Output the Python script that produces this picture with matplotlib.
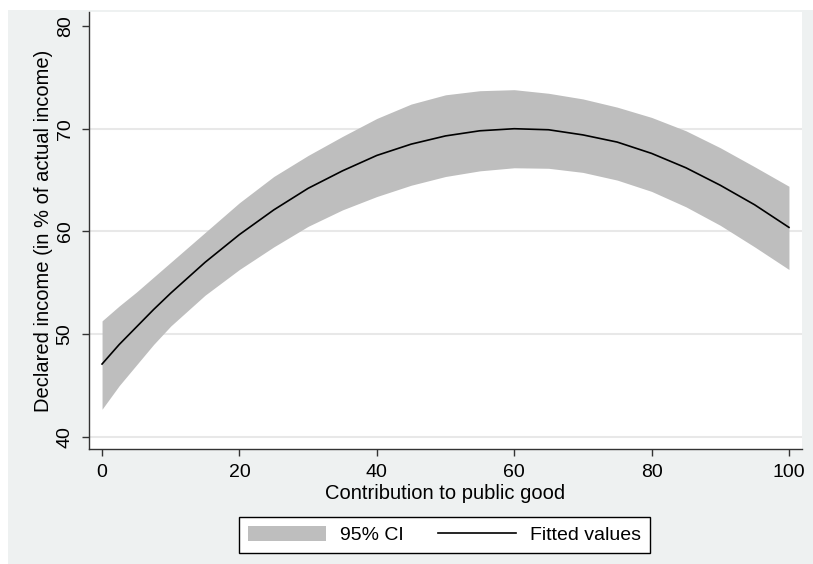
import matplotlib.pyplot as plt
import matplotlib.patches as mpatches
import numpy as np

plt.rcParams['font.family'] = ['Liberation Sans', 'DejaVu Sans']

# values
contribution = [0, 2.5, 5, 7.5, 10, 15, 20, 25, 30, 35, 40, 45, 50,
                55, 60, 65, 70, 75, 80, 85, 90, 95, 100]
fitted = [47.1, 49.0, 50.7, 52.4, 54.0, 57.0, 59.7, 62.1, 64.2, 65.9, 67.4,
          68.5, 69.3, 69.8, 70.0, 69.9, 69.4, 68.7, 67.6, 66.2, 64.5, 62.6, 60.4]
ci_upper = [51.3, 52.75, 54.1, 55.55, 57.0, 59.9, 62.8, 65.35, 67.4, 69.25,
            71.0, 72.4, 73.3, 73.7, 73.8, 73.45, 72.9, 72.1, 71.1, 69.8,
            68.15, 66.3, 64.4]
ci_lower = [42.7, 45.0, 47.0, 49.0, 50.8, 53.8, 56.3, 58.5, 60.5, 62.1, 63.4,
            64.5, 65.35, 65.9, 66.2, 66.15, 65.75, 65.0, 63.9, 62.4, 60.6,
            58.5, 56.3]
xticks = [0, 20, 40, 60, 80, 100]
yticks = [40, 50, 60, 70, 80]

fig = plt.figure(figsize=(8.13, 5.64), dpi=100, facecolor='white')
# stata-like background panel
fig.patches.append(mpatches.Rectangle((8 / 813, 0), 805 / 813, 554 / 564,
                                      transform=fig.transFigure,
                                      facecolor='#EEF1F1', edgecolor='none',
                                      zorder=-10))

ax = fig.add_axes([89 / 813, 115 / 564, 713 / 813, 437 / 564])
ax.set_facecolor('white')

ax.fill_between(contribution, ci_lower, ci_upper, color='#BEBEBE',
                linewidth=0, label='95% CI', zorder=2)
ax.plot(contribution, fitted, color='black', linewidth=1.2,
        label='Fitted values', zorder=3)

ax.set_xlim(-1.9, 101.9)
ax.set_ylim(38.83, 81.36)
ax.set_xticks(xticks)
ax.set_yticks(yticks)
ax.tick_params(axis='both', direction='out', length=5, width=1,
               color='#333333', labelsize=14, pad=6)
for lab in ax.get_yticklabels():
    lab.set_rotation(90)
    lab.set_va('center')

ax.yaxis.grid(True, color='#E8E8E8', linewidth=1.5, zorder=1)
ax.get_ygridlines()[-1].set_visible(False)
ax.set_axisbelow(True)

for s in ['top', 'right']:
    ax.spines[s].set_visible(False)
for s in ['left', 'bottom']:
    ax.spines[s].set_color('#333333')
    ax.spines[s].set_linewidth(1)

ax.set_xlabel('Contribution to public good', fontsize=14.5, labelpad=2)
ax.set_ylabel('Declared income (in % of actual income)', fontsize=14.5, labelpad=3)

leg = fig.legend(loc='center', bbox_to_anchor=(444.5 / 813, 1 - 535 / 564),
                 ncol=2, fontsize=14, frameon=True, fancybox=False,
                 edgecolor='black', framealpha=1, handlelength=4.0,
                 handleheight=0.8, handletextpad=0.7, columnspacing=1.8,
                 borderpad=0.45, borderaxespad=0)
leg.get_frame().set_linewidth(1)

fig.savefig('out.png', dpi=100)
